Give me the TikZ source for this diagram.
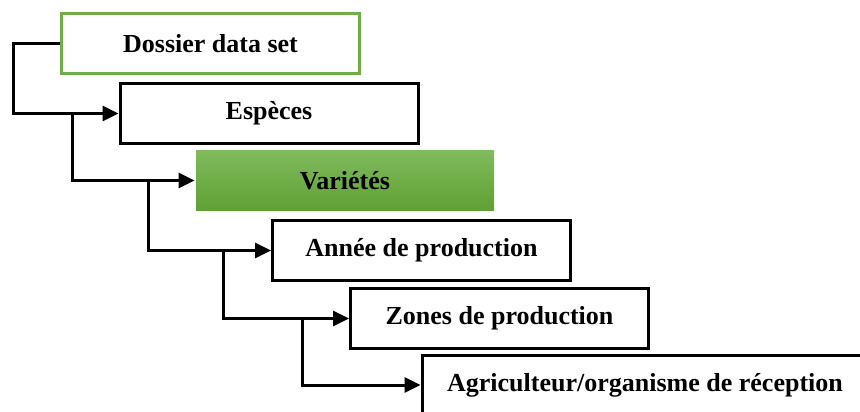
\documentclass[tikz,border=0pt]{standalone}
\usepackage{fontspec}
\setmainfont{Liberation Serif}
\usetikzlibrary{arrows.meta}
\definecolor{gborder}{RGB}{112,173,71}
\definecolor{gtop}{RGB}{128,187,92}
\definecolor{gbot}{RGB}{96,160,52}
\tikzset{
  box/.style={draw=black, line width=3pt, fill=white, minimum width=298pt, minimum height=60pt, inner sep=0pt,
    font=\fontsize{26}{30}\selectfont\bfseries},
  arr/.style={line width=3pt, -{Triangle[length=16pt,width=15pt]}},
}
\begin{document}
\begin{tikzpicture}[x=1pt,y=-1pt]
\useasboundingbox (0,0) rectangle (860,412);
\clip (0,0) rectangle (860,412);
\node[box, draw=gborder, line width=2.5pt] (d) at (210.5,43.5) {Dossier data set};
\node[box] (e) at (269,113.5) {Espèces};
\node[box, draw=none, top color=gtop, bottom color=gbot] (v) at (345,180.5) {Variétés};
\node[box] (a) at (421.5,250.5) {Année de production};
\node[box] (z) at (499.5,318.5) {Zones de production};
\node[box, minimum width=446pt, minimum height=60pt] (g) at (645,385) {Agriculteur/organisme de réception};
\coordinate (j1) at (72,113.5);
\coordinate (j2) at (148,180.5);
\coordinate (j3) at (223,250.5);
\coordinate (j4) at (302,318.5);
\draw[arr] (d.west) -- ++(-47,0) |- (e.west);
\draw[arr] (j1) |- (v.west);
\draw[arr] (j2) |- (a.west);
\draw[arr] (j3) |- (z.west);
\draw[arr] (j4) |- (g.west);
\end{tikzpicture}
\end{document}
